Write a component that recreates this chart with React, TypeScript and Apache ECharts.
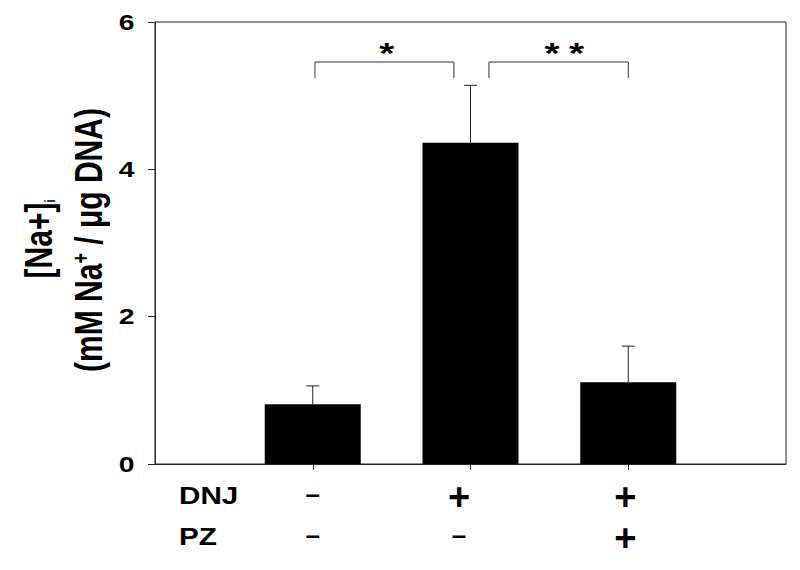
import React, { useEffect, useRef } from "react";
import * as echarts from "echarts";

const categories = ["Control", "DNJ", "DNJ + PZ"];
const xPositions = [1, 2, 3];
const means = [0.81, 4.36, 1.11];
const errUpper = [0.25, 0.78, 0.49];
const dnjRow = ["–", "+", "+"];
const pzRow = ["–", "–", "+"];
const rowNames = ["DNJ", "PZ"];
const yTickValues = [0, 2, 4, 6];

// significance annotations: [x1, x2, yTop, yBottom]
const brackets = [
  [1.014, 1.895, 5.457, 5.24],
  [2.117, 3.0, 5.457, 5.24],
];
// star marks: [x, y]
const starPositions = [
  [1.469, 5.66],
  [2.517, 5.66],
  [2.672, 5.66],
];

const FONT = "Liberation Sans, Arial, sans-serif";
const STRETCH = 1.29;

export default function App() {
  const ref = useRef<HTMLDivElement>(null);
  useEffect(() => {
    if (!ref.current) return;
    const chart = echarts.init(ref.current, undefined, { renderer: "svg" });
    const barData = xPositions.map((x, i) => [x, means[i]]);
    const errData = xPositions.map((x, i) => [x, means[i], means[i] + errUpper[i]]);
    const txt = (size: number) => ({
      fontFamily: FONT,
      fontWeight: "bold",
      fontSize: size,
      fill: "#000",
    });
    const richText = (s: string, size: number, extra: any) => ({
      text: `{a|${s}}`,
      rich: { a: { ...txt(size) } },
      ...extra,
    });
    const labelNudge = [0, 23, 6];
    const rich: any = {};
    labelNudge.forEach((n, i) => {
      rich["p" + i] = { fontFamily: FONT, fontWeight: "bold", fontSize: 38, lineHeight: 41, color: "#000", padding: [0, n, 0, 0] };
      rich["m" + i] = { fontFamily: FONT, fontWeight: "bold", fontSize: 26, lineHeight: 41, color: "#000", padding: [0, n, 5, 0] };
    });
    const sym = (s: string, i: number) => `{${s === "+" ? "p" : "m"}${i}|${s}}`;
    const option: any = {
      animation: false,
      backgroundColor: "#fff",
      grid: {
        left: 155,
        top: 22,
        right: 14,
        bottom: 106,
        show: true,
        borderColor: "#222",
        borderWidth: 1,
        backgroundColor: "transparent",
      },
      xAxis: {
        type: "value",
        min: 0,
        max: 4,
        interval: 1,
        axisLine: { show: true, onZero: false, lineStyle: { color: "#222", width: 1 } },
        axisTick: {
          show: true,
          inside: false,
          length: 6,
          customValues: xPositions,
          lineStyle: { color: "#222" },
        },
        splitLine: { show: false },
        axisLabel: {
          show: true,
          customValues: xPositions,
          margin: 12,
          lineHeight: 41,
          rich,
          formatter: (v: number) => {
            const i = Math.round(v) - 1;
            if (i < 0 || i >= categories.length) return "";
            return sym(dnjRow[i], i) + "\n" + sym(pzRow[i], i);
          },
        },
      },
      yAxis: {
        type: "value",
        min: 0,
        max: 6,
        interval: 2,
        axisLine: { show: true, lineStyle: { color: "#222", width: 1 } },
        axisTick: { show: true, inside: false, length: 7, lineStyle: { color: "#222" } },
        splitLine: { show: false },
        axisLabel: { show: false },
      },
      series: [
        {
          type: "bar",
          data: barData,
          barWidth: 96,
          itemStyle: { color: "#000" },
          z: 2,
        },
        {
          type: "custom",
          data: errData,
          z: 3,
          renderItem: (params: any, api: any) => {
            const x = api.value(0);
            const lo = api.coord([x, api.value(1)]);
            const hi = api.coord([x, api.value(2)]);
            const half = 6.5;
            return {
              type: "group",
              children: [
                {
                  type: "line",
                  shape: { x1: lo[0], y1: lo[1], x2: hi[0], y2: hi[1] },
                  style: { stroke: "#222", lineWidth: 1 },
                },
                {
                  type: "line",
                  shape: { x1: hi[0] - half, y1: hi[1], x2: hi[0] + half, y2: hi[1] },
                  style: { stroke: "#222", lineWidth: 1 },
                },
              ],
            };
          },
        },
        {
          type: "custom",
          data: brackets,
          z: 3,
          renderItem: (params: any, api: any) => {
            const a = api.coord([api.value(0), api.value(3)]);
            const b = api.coord([api.value(0), api.value(2)]);
            const c = api.coord([api.value(1), api.value(2)]);
            const d = api.coord([api.value(1), api.value(3)]);
            return {
              type: "polyline",
              shape: { points: [a, b, c, d] },
              style: { stroke: "#333", lineWidth: 1, fill: "none" },
            };
          },
        },
      ],
    };
    chart.setOption(option);

    const toPx = (p: number[]) => chart.convertToPixel({ xAxisIndex: 0, yAxisIndex: 0 }, p) as number[];

    const yLabels = yTickValues.map((v) => {
      const [px, py] = toPx([0, v]);
      return {
        type: "text",
        x: px - 20.5,
        y: py,
        scaleX: STRETCH,
        z: 10,
        style: richText(String(v), 22, { align: "right", verticalAlign: "middle" }),
      };
    });
    const starLabels = starPositions.map((s) => {
      const [px, py] = toPx(s);
      return {
        type: "text",
        x: px,
        y: py + 6,
        scaleX: STRETCH,
        z: 10,
        style: richText("*", 30, { align: "center", verticalAlign: "middle" }),
      };
    });

    chart.setOption({
      graphic: [
        ...yLabels,
        ...starLabels,
        {
          type: "text",
          x: 179,
          y: 496.5,
          scaleX: STRETCH,
          z: 10,
          style: richText(rowNames[0], 23, { align: "left", verticalAlign: "middle" }),
        },
        {
          type: "text",
          x: 179,
          y: 537,
          scaleX: STRETCH,
          z: 10,
          style: richText(rowNames[1], 23, { align: "left", verticalAlign: "middle" }),
        },
        {
          type: "text",
          x: 38.3,
          y: 239,
          rotation: Math.PI / 2,
          scaleY: STRETCH,
          z: 10,
          style: {
            text: "{a|[Na+]}{sub|i}",
            align: "center",
            verticalAlign: "middle",
            rich: {
              a: { ...txt(30), lineHeight: 30 },
              sub: { ...txt(11), lineHeight: 6, verticalAlign: "bottom" },
            },
          },
        },
        {
          type: "text",
          x: 88.3,
          y: 240,
          rotation: Math.PI / 2,
          scaleY: STRETCH,
          z: 10,
          style: {
            text: "{a|(mM Na}{sup|+}{a| / μg DNA)}",
            align: "center",
            verticalAlign: "middle",
            rich: {
              a: { ...txt(30), lineHeight: 30 },
              sup: { ...txt(18), lineHeight: 2, verticalAlign: "top" },
            },
          },
        },
      ],
    });
    return () => chart.dispose();
  }, []);
  return <div ref={ref} style={{ width: 800, height: 570, position: "absolute", left: 0, top: 0 }} />;
}
